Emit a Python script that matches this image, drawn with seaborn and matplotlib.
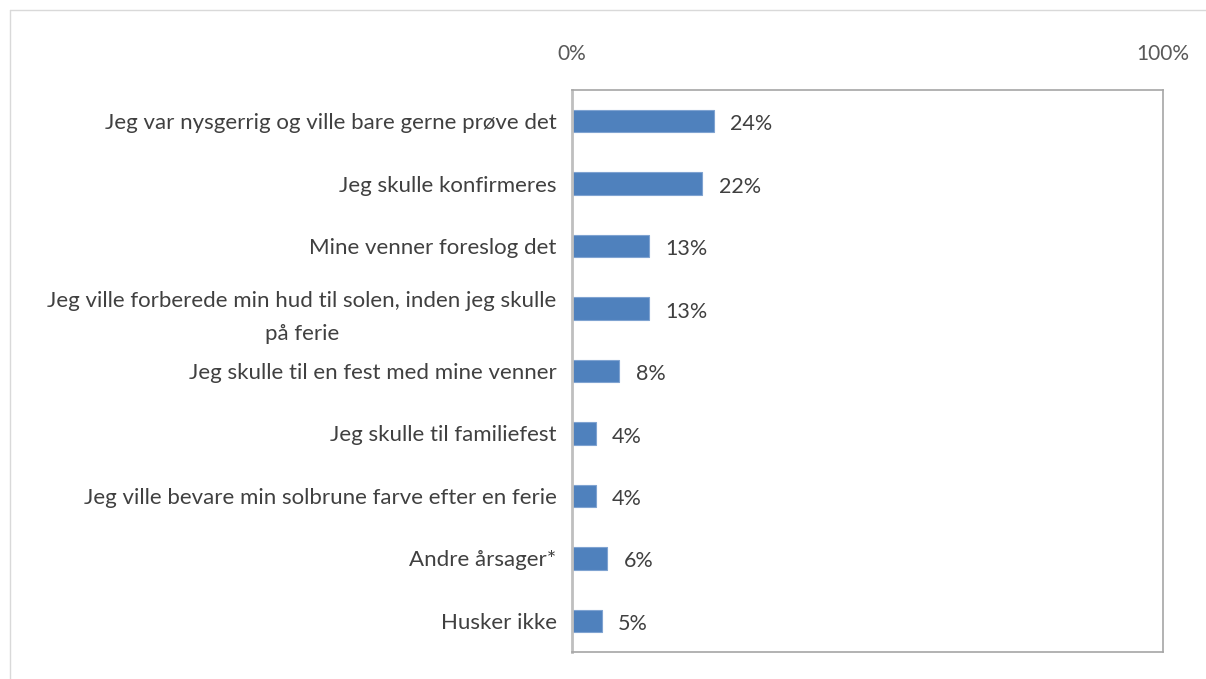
import matplotlib
matplotlib.use("Agg")
import matplotlib.pyplot as plt
import seaborn as sns
import pandas as pd
from matplotlib.lines import Line2D

categories = [
    "Jeg var nysgerrig og ville bare gerne prøve det",
    "Jeg skulle konfirmeres",
    "Mine venner foreslog det",
    "Jeg ville forberede min hud til solen, inden jeg skulle\npå ferie",
    "Jeg skulle til en fest med mine venner",
    "Jeg skulle til familiefest",
    "Jeg ville bevare min solbrune farve efter en ferie",
    "Andre årsager*",
    "Husker ikke",
]
values = [24, 22, 13, 13, 8, 4, 4, 6, 5]
tick_values = [0, 100]
tick_labels = ["0%", "100%"]

df = pd.DataFrame({"cat": categories, "val": values})

sns.set_style("white")
plt.rcParams['font.family'] = ['Lato', 'DejaVu Sans']

fig = plt.figure(figsize=(12.06, 6.79), dpi=100)
ax = fig.add_axes([0.4743, 0.0398, 0.49, 0.8277])

sns.barplot(data=df, x="val", y="cat", orient="h", ax=ax, color="#4F81BD",
            width=0.36, edgecolor="#7FA3D1", linewidth=0.8, saturation=1)

ax.set_xlim(0, 100)
ax.set_ylim(len(categories) - 0.5, -0.5)
ax.set_xticks(tick_values)
ax.set_xticklabels(tick_labels, fontsize=15, color="#595959")
ax.xaxis.tick_top()
ax.tick_params(axis="x", length=0, pad=19)
ax.tick_params(axis="y", length=0, pad=11, labelsize=16, labelcolor="#404040")
for lbl in ax.get_yticklabels():
    lbl.set_multialignment("center")
    lbl.set_linespacing(1.85)
ax.set_xlabel("")
ax.set_ylabel("")

for side in ["top", "right", "bottom"]:
    ax.spines[side].set_color("#A6A6A6")
    ax.spines[side].set_linewidth(1.2)
ax.spines["left"].set_color("#BFBFBF")
ax.spines["left"].set_linewidth(2)

for i, v in enumerate(values):
    ax.text(v + 2.8, i + 0.05, f"{v}%", va="center", ha="left", fontsize=15.5, color="#404040")

# outer chart frame
fig.add_artist(Line2D([10 / 1206, 10 / 1206], [0, 1 - 10 / 679], transform=fig.transFigure,
                      color="#D9D9D9", lw=1))
fig.add_artist(Line2D([10 / 1206, 1], [1 - 10 / 679, 1 - 10 / 679], transform=fig.transFigure,
                      color="#D9D9D9", lw=1))

fig.savefig("out.png", dpi=100)
